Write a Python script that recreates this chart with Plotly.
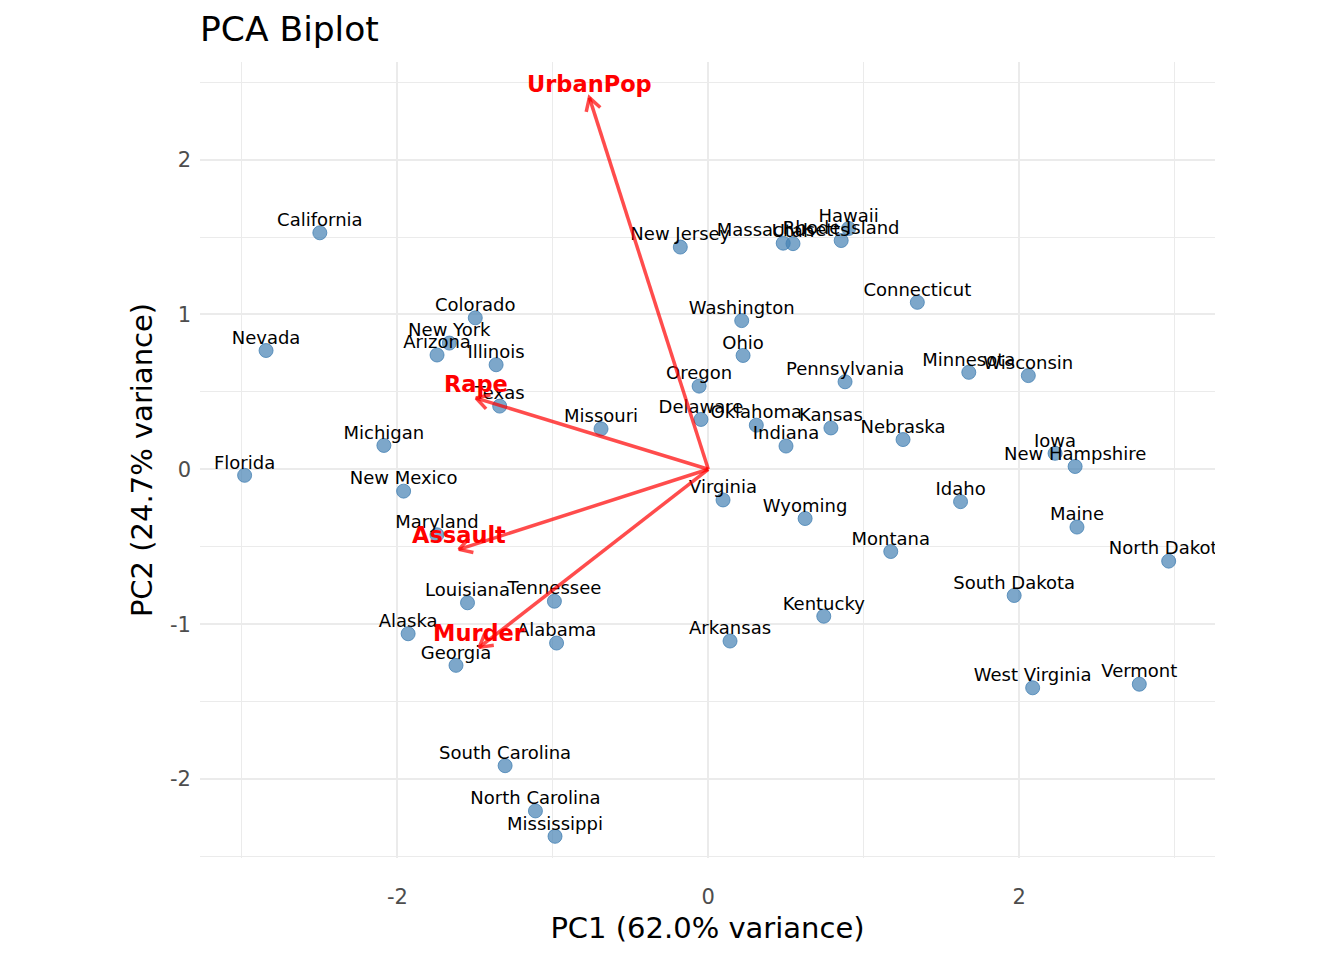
import numpy as np
import plotly.graph_objects as go

states = ["Alabama","Alaska","Arizona","Arkansas","California","Colorado","Connecticut","Delaware","Florida","Georgia","Hawaii","Idaho","Illinois","Indiana","Iowa","Kansas","Kentucky","Louisiana","Maine","Maryland","Massachusetts","Michigan","Minnesota","Mississippi","Missouri","Montana","Nebraska","Nevada","New Hampshire","New Jersey","New Mexico","New York","North Carolina","North Dakota","Ohio","Oklahoma","Oregon","Pennsylvania","Rhode Island","South Carolina","South Dakota","Tennessee","Texas","Utah","Vermont","Virginia","Washington","West Virginia","Wisconsin","Wyoming"]
pc1 = [-0.976,-1.931,-1.745,0.140,-2.499,-1.499,1.345,-0.047,-2.983,-1.623,0.903,1.623,-1.365,0.500,2.231,0.789,0.743,-1.549,2.372,-1.746,0.482,-2.087,1.676,-0.986,-0.690,1.174,1.253,-2.845,2.360,-0.180,-1.960,-1.666,-1.112,2.962,0.224,0.309,-0.059,0.880,0.855,-1.307,1.968,-0.990,-1.342,0.545,2.773,0.095,0.215,2.087,2.059,0.623]
pc2 = [-1.122,-1.062,0.738,-1.109,1.527,0.978,1.078,0.322,-0.039,-1.266,1.555,-0.209,0.675,0.150,0.103,0.267,-0.949,-0.862,-0.373,-0.423,1.460,0.154,0.626,-2.370,0.261,-0.531,0.192,0.767,0.018,1.435,-0.141,0.815,-2.206,-0.593,0.735,0.285,0.537,0.565,1.477,-1.914,-0.815,-0.852,0.408,1.457,-1.388,-0.198,0.960,-1.411,0.605,-0.318]

variables = ["Murder","Assault","UrbanPop","Rape"]
load1 = [-1.474,-1.604,-0.765,-1.494]
load2 = [-1.150,-0.517,2.400,0.460]

xticks = [-2, 0, 2]
yticks = [-2, -1, 0, 1, 2]

ARROW = "rgba(255,0,0,0.7)"
HEAD_LEN = 0.095
HEAD_ANG = np.deg2rad(30)

fig = go.Figure()

fig.add_trace(go.Scatter(
    x=pc1, y=pc2, mode="markers",
    marker=dict(color="rgba(70,130,180,0.7)", size=14, line=dict(color="rgba(70,130,180,0.8)", width=1)),
    text=states, hoverinfo="text", showlegend=False))

# state labels (clipped to the panel like the reference)
fig.add_trace(go.Scatter(
    x=pc1, y=pc2, mode="markers+text", text=states, textposition="top center",
    marker=dict(size=2, opacity=0),
    textfont=dict(family="DejaVu Sans", size=18, color="black"),
    hoverinfo="skip", showlegend=False, cliponaxis=True))

# loading arrows: shaft + open chevron head derived from each loading tip
for v, x1, y1 in zip(variables, load1, load2):
    tip = np.array([x1, y1])
    u = -tip / np.linalg.norm(tip)
    arms = []
    for a in (HEAD_ANG, -HEAD_ANG):
        rot = np.array([[np.cos(a), -np.sin(a)], [np.sin(a), np.cos(a)]])
        arms.append(tip + HEAD_LEN * rot @ u)
    xs = [0, x1, None, arms[0][0], x1, arms[1][0]]
    ys = [0, y1, None, arms[0][1], y1, arms[1][1]]
    fig.add_trace(go.Scatter(x=xs, y=ys, mode="lines",
                             line=dict(color=ARROW, width=3.5),
                             hoverinfo="skip", showlegend=False))

annotations = []
for v, x, y in zip(variables, load1, load2):
    annotations.append(dict(x=x, y=y, xref="x", yref="y", text="<b>%s</b>" % v, showarrow=False,
                            yshift=14, xanchor="center", yanchor="middle",
                            font=dict(family="DejaVu Sans", size=22.5, color="red")))

axis_common = dict(
    showgrid=True, gridcolor="#EBEBEB", gridwidth=2,
    zeroline=False, showline=False, ticks="",
    tickfont=dict(family="DejaVu Sans", size=21, color="#4D4D4D"),
    title_font=dict(family="DejaVu Sans", size=29, color="black"),
)

fig.update_layout(
    width=1344, height=960,
    paper_bgcolor="white", plot_bgcolor="white",
    margin=dict(l=192, r=137, t=54, b=110),
    annotations=annotations,
    title=dict(text="PCA Biplot", x=192/1344, xanchor="left", y=1-21/960, yanchor="middle",
               font=dict(family="DejaVu Sans", size=34.5, color="black")),
    xaxis=dict(axis_common, range=[-3.27, 3.26], tickmode="array", tickvals=xticks,
               ticktext=[str(t) for t in xticks], ticklabelstandoff=24,
               title=dict(text="PC1 (62.0% variance)", standoff=9),
               minor=dict(tickmode="array", tickvals=[-3, -1, 1, 3], showgrid=True, gridcolor="#EBEBEB", gridwidth=1)),
    yaxis=dict(axis_common, range=[-2.51, 2.63], tickmode="array", tickvals=yticks,
               ticktext=[str(t) for t in yticks], ticklabelstandoff=8,
               title=dict(text="PC2 (24.7% variance)", standoff=8),
               minor=dict(tickmode="array", tickvals=[-2.5, -1.5, -0.5, 0.5, 1.5, 2.5], showgrid=True, gridcolor="#EBEBEB", gridwidth=1)),
    font=dict(family="DejaVu Sans"),
)

fig.write_html("out.html")
